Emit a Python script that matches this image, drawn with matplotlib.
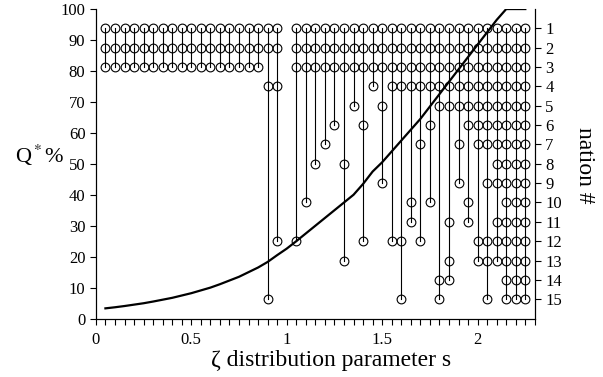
import matplotlib
matplotlib.use("Agg")
import matplotlib.pyplot as plt
from matplotlib.ticker import MultipleLocator, FuncFormatter

plt.rcParams["font.family"] = "Liberation Serif"
plt.rcParams["mathtext.fontset"] = "stix"

# Q* curve over the zeta parameter
s_curve = [0.05, 0.10, 0.15, 0.20, 0.25, 0.30, 0.35, 0.40, 0.45, 0.50,
           0.55, 0.60, 0.65, 0.70, 0.75, 0.80, 0.85, 0.90, 0.95, 1.00,
           1.05, 1.10, 1.15, 1.20, 1.25, 1.30, 1.35, 1.40, 1.45, 1.50,
           1.55, 1.60, 1.65, 1.70, 1.75, 1.80, 1.85, 1.90, 1.95, 2.00,
           2.05, 2.10, 2.15, 2.20, 2.25]
q_star = [3.3, 3.65, 4.05, 4.5, 4.95, 5.5, 6.1, 6.7, 7.45, 8.2,
          9.1, 10.0, 11.1, 12.3, 13.5, 15.0, 16.5, 18.3, 20.5, 22.6,
          25.0, 27.5, 30.0, 32.5, 35.0, 37.5, 40.0, 43.5, 47.5, 50.5,
          54.0, 57.5, 61.0, 64.5, 68.5, 72.5, 76.5, 80.5, 84.5, 88.5,
          92.5, 96.5, 100.0, 100.0, 100.0]

# member nations of the winning coalition at each s
s_cols = [0.05, 0.10, 0.15, 0.20, 0.25, 0.30, 0.35, 0.40, 0.45, 0.50,
          0.55, 0.60, 0.65, 0.70, 0.75, 0.80, 0.85, 0.90, 0.95,
          1.05, 1.10, 1.15, 1.20, 1.25, 1.30, 1.35, 1.40, 1.45, 1.50,
          1.55, 1.60, 1.65, 1.70, 1.75, 1.80, 1.85, 1.90, 1.95, 2.00,
          2.05, 2.10, 2.15, 2.20, 2.25]
coalitions = [[1, 2, 3]] * 17 + [
    [1, 2, 4, 15],
    [1, 2, 4, 12],
    [1, 2, 3, 12],
    [1, 2, 3, 10],
    [1, 2, 3, 8],
    [1, 2, 3, 7],
    [1, 2, 3, 6],
    [1, 2, 3, 8, 13],
    [1, 2, 3, 5],
    [1, 2, 3, 6, 12],
    [1, 2, 3, 4],
    [1, 2, 3, 5, 9],
    [1, 2, 3, 4, 12],
    [1, 2, 3, 4, 12, 15],
    [1, 2, 3, 4, 10, 11],
    [1, 2, 3, 4, 7, 12],
    [1, 2, 3, 4, 6, 10],
    [1, 2, 3, 4, 5, 14, 15],
    [1, 2, 3, 4, 5, 11, 13, 14],
    [1, 2, 3, 4, 5, 7, 9],
    [1, 2, 3, 4, 5, 6, 10, 11],
    [1, 2, 3, 4, 5, 6, 7, 12, 13],
    [1, 2, 3, 4, 5, 6, 7, 9, 12, 13, 15],
    [1, 2, 3, 4, 5, 6, 7, 8, 9, 11, 12, 13],
    [1, 2, 3, 4, 5, 6, 7, 8, 9, 10, 11, 12, 13, 14, 15],
    [1, 2, 3, 4, 5, 6, 7, 8, 9, 10, 11, 12, 13, 14, 15],
    [1, 2, 3, 4, 5, 6, 7, 8, 9, 10, 11, 12, 13, 14, 15],
]
nation_ticks = list(range(1, 16))

fig = plt.figure(figsize=(6.03, 3.77), dpi=100)
ax = fig.add_axes([0.159, 0.155, 0.728, 0.821])
ax.plot(s_curve, q_star, color="black", lw=1.6, zorder=3)
ax.set_xlim(0, 2.3)
ax.set_ylim(0, 100)
ax.spines["top"].set_visible(False)
ax.xaxis.set_major_locator(MultipleLocator(0.5))
ax.xaxis.set_minor_locator(MultipleLocator(0.05))
ax.xaxis.set_major_formatter(FuncFormatter(lambda v, p: f"{v:g}"))
ax.yaxis.set_major_locator(MultipleLocator(10))
ax.tick_params(which="both", direction="out", length=4, width=0.8, labelsize=12)
ax.tick_params(axis="x", pad=6)

ax2 = ax.twinx()
ax2.set_ylim(16, 0)
ax2.spines["top"].set_visible(False)
for s, nations in zip(s_cols, coalitions):
    ax2.plot([s] * len(nations), nations, color="black", lw=0.8,
             marker="o", ms=6.3, mfc="none", mec="black", mew=0.8)
ax2.set_yticks(nation_ticks)
ax2.tick_params(direction="out", length=4, width=0.8, labelsize=12)

ax.set_xlabel("ζ distribution parameter s", fontsize=17)
ax.xaxis.set_label_coords(0.535, -0.10)
ax.set_ylabel("Q$^*$%", rotation=0, fontsize=16, ha="center", va="center")
ax.yaxis.set_label_coords(-0.128, 0.528)
ax2.set_ylabel("nation #", rotation=-90, fontsize=17, ha="center", va="center")
ax2.yaxis.set_label_coords(1.114, 0.496)

fig.savefig("out.png", dpi=100)
